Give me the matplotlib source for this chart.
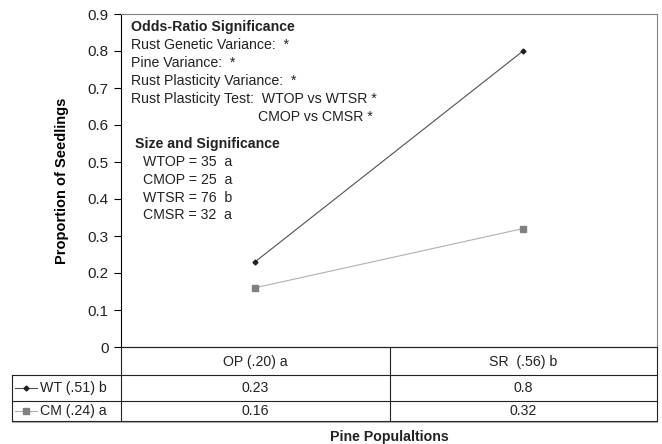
import matplotlib
matplotlib.use('Agg')
import matplotlib.pyplot as plt
from matplotlib.lines import Line2D

plt.rcParams['font.family'] = ['Liberation Sans', 'DejaVu Sans']

# data
categories = ['OP (.20) a', 'SR  (.56) b']
series_names = ['WT (.51) b', 'CM (.24) a']
wt = [0.23, 0.8]
cm = [0.16, 0.32]
yticks = [0, 0.1, 0.2, 0.3, 0.4, 0.5, 0.6, 0.7, 0.8, 0.9]

notes = [
    ('Odds-Ratio Significance', True, 131, 27),
    ('Rust Genetic Variance:  *', False, 131, 45),
    ('Pine Variance:  *', False, 131, 63),
    ('Rust Plasticity Variance:  *', False, 131, 81),
    ('Rust Plasticity Test:  WTOP vs WTSR *', False, 131, 99),
    ('CMOP vs CMSR *', False, 258, 117),
    ('Size and Significance', True, 135, 144),
    ('WTOP = 35  a', False, 143, 162),
    ('CMOP = 25  a', False, 143, 180),
    ('WTSR = 76  b', False, 143, 198),
    ('CMSR = 32  a', False, 143, 215),
]

W, H = 662, 444
fig = plt.figure(figsize=(W / 100, H / 100), dpi=100)

def fx(px):
    return px / W

def fy(py):
    return 1 - py / H

ax = fig.add_axes([fx(121), fy(347), fx(657) - fx(121), fy(14) - fy(347)])
x = list(range(len(categories)))
ax.plot(x, wt, color='#505050', lw=0.8, marker='D', ms=2.5, mfc='#202020', mec='#202020', zorder=3)
ax.plot(x, cm, color='#b0b0b0', lw=0.8, marker='s', ms=5, mfc='#808080', mec='#808080', zorder=3)
ax.set_xlim(-0.5, len(categories) - 0.5)
ax.set_ylim(0, 0.9)
ax.set_yticks(yticks)
ax.set_yticklabels(['%g' % t for t in yticks], fontsize=11, color='#222222')
ax.set_xticks([])
ax.tick_params(axis='y', direction='out', length=5, width=0.8, pad=4)
ax.spines['left'].set_color('black')
ax.spines['bottom'].set_color('black')
ax.spines['top'].set_color('#808080')
ax.spines['right'].set_color('#808080')
for s in ax.spines.values():
    s.set_linewidth(0.8)
ax.set_ylabel('Proportion of Seedlings', fontsize=10.5, fontweight='bold', labelpad=13)

for txt, bold, px, py in notes:
    fig.text(fx(px), fy(py), txt, fontsize=10.2, color='#222222',
             fontweight='bold' if bold else 'normal', ha='left', va='center')

# data table under the plot
tab = fig.add_axes([0, 0, 1, 1], facecolor='none')
tab.set_xlim(0, W)
tab.set_ylim(H, 0)
tab.axis('off')
col_edges = [121, 390, 657]
row_edges = [347, 375, 401, 421]
lc = '#222222'
for i, ry in enumerate(row_edges):
    x0 = 121 if i == 0 else 12
    tab.plot([x0, 657], [ry, ry], color=lc, lw=0.8)
for cx in col_edges:
    tab.plot([cx, cx], [347, 421], color=lc, lw=0.8)
tab.plot([12, 12], [375, 421], color=lc, lw=0.8)
tab.plot([12, 657], [422, 422], color='#aaaaaa', lw=0.8)

for j, c in enumerate(categories):
    cxm = (col_edges[j] + col_edges[j + 1]) / 2
    tab.text(cxm, 362, c, fontsize=10.2, ha='center', va='center', color='#222222')

styles = [dict(color='#505050', marker='D', ms=2.5, mfc='#202020', mec='#202020'),
          dict(color='#b0b0b0', marker='s', ms=4, mfc='#808080', mec='#808080')]
for i, (name, vals) in enumerate(zip(series_names, [wt, cm])):
    ym = (row_edges[i + 1] + row_edges[i + 2]) / 2
    tab.add_line(Line2D([15, 37], [ym, ym], lw=0.8, color=styles[i]['color']))
    tab.plot([26], [ym], ls='none', marker=styles[i]['marker'], ms=styles[i]['ms'],
             mfc=styles[i]['mfc'], mec=styles[i]['mec'])
    tab.text(40, ym, name, fontsize=10.2, ha='left', va='center', color='#222222')
    for j, v in enumerate(vals):
        cxm = (col_edges[j] + col_edges[j + 1]) / 2
        tab.text(cxm, ym, '%g' % v, fontsize=10.2, ha='center', va='center', color='#222222')

fig.text(fx(389), fy(437), 'Pine Populaltions', fontsize=10.2, fontweight='bold',
         ha='center', va='center', color='#222222')

fig.savefig('out.png', dpi=100)
